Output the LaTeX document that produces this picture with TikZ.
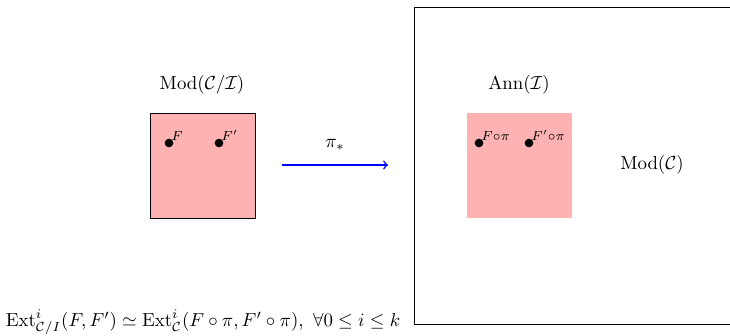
\documentclass[tikz,border=0pt]{standalone}
\usepackage{amsmath,amssymb}
\usetikzlibrary{fit}
\begin{document}
\begin{tikzpicture}[x=0.53pt,y=-0.53pt,
  pinkbox/.style={fill=red!30,inner sep=0pt},
  pt/.style={circle,fill=black,inner sep=0pt,minimum size=4.6pt},
  ptlabel/.style={font=\scriptsize,inner sep=1pt,anchor=south west},
  mapar/.style={->,blue,thick}]
\useasboundingbox (0,0) rectangle (730,335);
\clip (0,0) rectangle (730,335);
% left
\node (lbox) [pinkbox,draw=black,fit={(150,113) (255,218)}] {};
\node (lname) at (202,85) {$\mathrm{Mod}(\mathcal{C}/\mathcal{I})$};
\node (f1) [pt] at (169,143) {};
\node (f1l) [ptlabel] at (f1.center) {$F$};
\node (f2) [pt] at (219,143) {};
\node (f2l) [ptlabel] at (f2.center) {$F'$};
% arrow
\coordinate (as) at (282,165);
\coordinate (ae) at (388,165);
\draw[mapar] (as) -- node[above=4pt,black] {$\pi_*$} (ae);
% right big
\node (big) [draw=black,inner sep=0pt,fit={(414,7) (900,324)}] {};
\node (rbox) [pinkbox,fit={(467,113) (572,218)}] {};
\node (rname) at (519,85) {$\mathrm{Ann}(\mathcal{I})$};
\node (g1) [pt] at (479,143) {};
\node (g1l) [ptlabel] at (g1.center) {$F{\circ}\pi$};
\node (g2) [pt] at (529,143) {};
\node (g2l) [ptlabel] at (g2.center) {$F'{\circ}\pi$};
\node (modc) at (652,165) {$\mathrm{Mod}(\mathcal{C})$};
% formula
\node (ext) at (203,322) {$\mathrm{Ext}^i_{\mathcal{C}/I}(F,F')\simeq\mathrm{Ext}^i_{\mathcal{C}}(F\circ\pi,F'\circ\pi),\ \forall 0\leq i\leq k$};
\end{tikzpicture}
\end{document}
